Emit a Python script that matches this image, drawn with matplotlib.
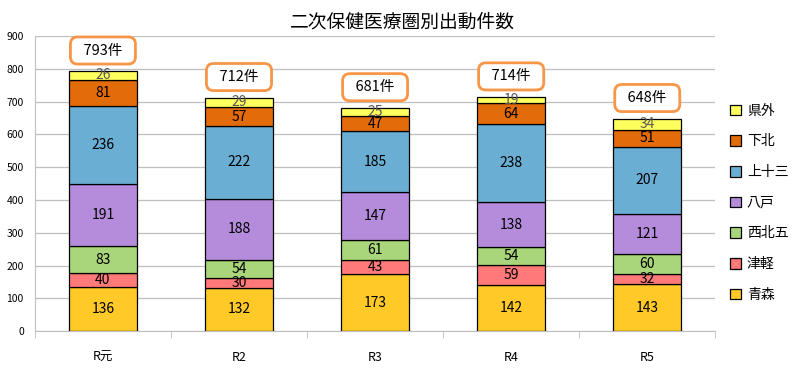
import numpy as np
import matplotlib
matplotlib.use("Agg")
import matplotlib.pyplot as plt

plt.rcParams['font.family'] = ['Noto Sans CJK JP', 'DejaVu Sans']

years = ["R元", "R2", "R3", "R4", "R5"]
areas = ["青森", "津軽", "西北五", "八戸", "上十三", "下北", "県外"]
aomori = [136, 132, 173, 142, 143]
tsugaru = [40, 30, 43, 59, 32]
seihokugo = [83, 54, 61, 54, 60]
hachinohe = [191, 188, 147, 138, 121]
kamitosan = [236, 222, 185, 238, 207]
shimokita = [81, 57, 47, 64, 51]
kengai = [26, 29, 25, 19, 34]

colors = ["#FFCA28", "#FF7A78", "#A9D67A", "#B48CDB", "#6AAED3", "#E26B0A", "#FFFF5E"]
label_colors = ["black"] * 6 + ["#595959"]

series = [aomori, tsugaru, seihokugo, hachinohe, kamitosan, shimokita, kengai]

fig = plt.figure(figsize=(8.11, 3.72), dpi=100)
ax = fig.add_axes([0.043, 0.110, 0.839, 0.793])

x = np.arange(len(years))
bottom = np.zeros(len(years))
handles = []
for vals, name, col, lc in zip(series, areas, colors, label_colors):
    vals = np.array(vals)
    b = ax.bar(x, vals, 0.5, bottom=bottom, color=col, edgecolor="black",
               linewidth=0.9, label=name, zorder=3)
    handles.append(b)
    for xi, v, bt in zip(x, vals, bottom):
        ax.text(xi, bt + v / 2, str(v), ha="center", va="center",
                fontsize=10, color=lc, zorder=4)
    bottom += vals

# total boxes
for xi, tot in zip(x, bottom):
    ax.text(xi, tot + 63, f"  {int(tot)}件  ", ha="center", va="center", fontsize=10.5,
            zorder=5,
            bbox=dict(boxstyle="round,pad=0.45,rounding_size=0.5", fc="white",
                      ec="#F79646", lw=2))

ax.set_xlim(-0.5, len(years) - 0.5)
ax.set_ylim(0, 900)
ax.set_yticks(range(0, 901, 100))
ax.tick_params(axis="y", length=0, labelsize=7.5, pad=8)
ax.set_xticks(x)
ax.set_xticklabels(years, fontsize=9)
ax.set_xticks(np.arange(-0.5, len(years)), minor=True)
ax.tick_params(axis="x", which="major", length=0, pad=14)
ax.tick_params(axis="x", which="minor", length=5, color="#BFBFBF")
ax.grid(axis="y", color="#BFBFBF", linewidth=0.9, zorder=0)
for s in ["top", "right"]:
    ax.spines[s].set_visible(False)
ax.spines["left"].set_color("#BFBFBF")
ax.spines["bottom"].set_color("#BFBFBF")

fig.text(0.496, 0.941, "二次保健医療圏別出動件数", fontsize=13.5,
         ha="center", va="center")

leg = fig.legend(handles[::-1], areas[::-1], loc="center left",
                 bbox_to_anchor=(0.885, 0.455), frameon=False, fontsize=10,
                 handlelength=0.8, handleheight=0.8, labelspacing=1.2,
                 handletextpad=0.4)

fig.savefig("out.png", dpi=100)
